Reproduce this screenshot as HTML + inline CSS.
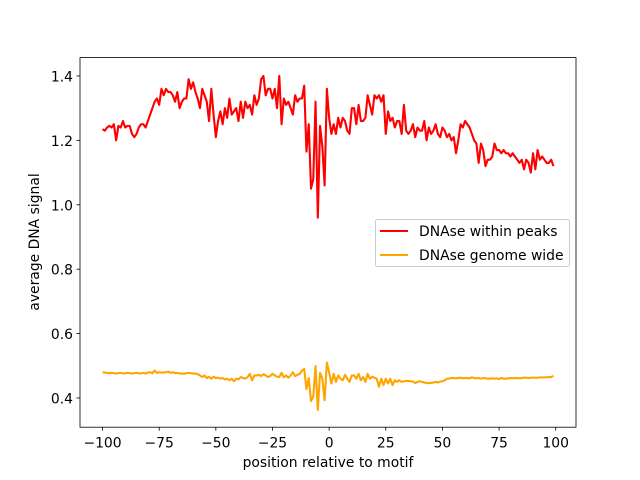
<!DOCTYPE html>
<html><head><meta charset="utf-8"><style>
body{margin:0;background:#fff;}
svg{display:block;font-family:"DejaVu Sans","Liberation Sans",sans-serif;}
</style></head><body>
<svg id="chart" width="640" height="480" viewBox="0 0 640 480">
<rect width="640" height="480" fill="#fff"/>
<g id="plot"></g>
<rect x="80" y="57.6" width="496" height="369.6" fill="none" stroke="#000" stroke-width="0.8"/>
<g id="axes" font-size="13.9" fill="#000"></g>
<text x="328" y="467" font-size="13.9" text-anchor="middle">position relative to motif</text>
<text transform="translate(39,242) rotate(-90)" font-size="13.9" text-anchor="middle">average DNA signal</text>
<g>
<rect x="375.5" y="219.5" width="194" height="47" rx="2" fill="#fff" fill-opacity="0.8" stroke="#ccc" stroke-width="1"/>
<g>
<line x1="380" y1="231" x2="408" y2="231" stroke="red" stroke-width="2.1"/>
<text x="419" y="236" font-size="13.9">DNAse within peaks</text></g>
<g>
<line x1="380" y1="255" x2="408" y2="255" stroke="orange" stroke-width="2.1"/>
<text x="419" y="260" font-size="13.9">DNAse genome wide</text></g>
</g>
</svg>
<script>
const peaks=[1.235,1.23,1.24,1.245,1.24,1.25,1.20,1.245,1.24,1.26,1.24,
1.245,1.245,1.22,1.21,1.22,1.24,1.25,1.25,1.24,1.26,
1.28,1.30,1.32,1.33,1.31,1.36,1.34,1.36,1.35,1.35,
1.34,1.32,1.35,1.30,1.32,1.33,1.33,1.39,1.36,1.38,
1.35,1.33,1.30,1.36,1.34,1.32,1.26,1.36,1.28,1.21,
1.26,1.29,1.25,1.30,1.27,1.33,1.28,1.29,1.30,1.26,
1.32,1.27,1.32,1.30,1.31,1.28,1.34,1.31,1.33,1.39,
1.40,1.34,1.36,1.36,1.33,1.36,1.30,1.40,1.25,1.33,
1.31,1.32,1.30,1.28,1.34,1.32,1.33,1.33,1.37,1.165,
1.25,1.05,1.08,1.32,0.96,1.245,1.18,1.06,1.36,1.27,
1.22,1.25,1.22,1.27,1.24,1.27,1.26,1.23,1.22,1.30,
1.30,1.25,1.31,1.26,1.26,1.27,1.34,1.31,1.28,1.34,
1.33,1.34,1.32,1.34,1.22,1.29,1.26,1.27,1.24,1.26,
1.26,1.22,1.31,1.23,1.22,1.23,1.25,1.21,1.24,1.23,
1.23,1.26,1.20,1.24,1.22,1.23,1.25,1.22,1.21,1.24,
1.23,1.21,1.22,1.20,1.21,1.16,1.20,1.25,1.24,1.26,
1.25,1.24,1.22,1.20,1.19,1.13,1.19,1.17,1.12,1.14,
1.14,1.15,1.19,1.17,1.17,1.16,1.17,1.16,1.16,1.15,
1.16,1.15,1.14,1.13,1.14,1.11,1.14,1.13,1.10,1.16,
1.11,1.17,1.14,1.15,1.14,1.13,1.13,1.14,1.12];
const genome=[0.48,0.479,0.478,0.477,0.478,0.477,0.476,0.477,0.478,0.476,0.477,
0.478,0.477,0.476,0.477,0.478,0.477,0.476,0.478,0.476,0.479,
0.48,0.477,0.485,0.478,0.48,0.479,0.479,0.48,0.482,0.478,
0.48,0.477,0.478,0.476,0.476,0.475,0.477,0.478,0.477,0.476,
0.476,0.474,0.47,0.465,0.47,0.462,0.466,0.46,0.466,0.462,
0.463,0.46,0.462,0.458,0.46,0.455,0.46,0.452,0.46,0.458,
0.465,0.462,0.46,0.465,0.475,0.455,0.47,0.47,0.472,0.468,
0.474,0.47,0.465,0.468,0.475,0.47,0.466,0.465,0.478,0.464,
0.47,0.463,0.47,0.48,0.468,0.472,0.474,0.485,0.49,0.428,
0.462,0.39,0.404,0.499,0.363,0.478,0.46,0.393,0.51,0.48,
0.445,0.475,0.45,0.47,0.46,0.455,0.472,0.46,0.45,0.47,
0.47,0.46,0.475,0.455,0.465,0.45,0.475,0.46,0.466,0.463,
0.46,0.435,0.46,0.44,0.46,0.445,0.46,0.44,0.455,0.45,
0.455,0.45,0.452,0.453,0.453,0.452,0.451,0.446,0.45,0.452,
0.45,0.448,0.447,0.446,0.447,0.448,0.45,0.448,0.451,0.452,
0.455,0.46,0.46,0.462,0.462,0.461,0.462,0.463,0.461,0.462,
0.462,0.461,0.464,0.462,0.461,0.462,0.46,0.462,0.461,0.46,
0.46,0.461,0.46,0.461,0.459,0.462,0.46,0.46,0.461,0.462,
0.461,0.462,0.462,0.461,0.462,0.463,0.463,0.462,0.463,0.463,
0.463,0.463,0.464,0.464,0.464,0.464,0.465,0.465,0.469];
const xTicks=[-100,-75,-50,-25,0,25,50,75,100];
const yTicks=[0.4,0.6,0.8,1.0,1.2,1.4];
const xStart=-100;
const NS="http://www.w3.org/2000/svg";
const X0=80,X1=576,Y0=427.2,Y1=57.6,xmin=-109.95,xmax=108.95,ymin=0.3093,ymax=1.457;
function sx(v){return X0+(v-xmin)/(xmax-xmin)*(X1-X0);}
function sy(v){return Y0-(v-ymin)/(ymax-ymin)*(Y0-Y1);}
const plot=document.getElementById('plot'),axes=document.getElementById('axes');
function line(arr,color,name){
  const p=document.createElementNS(NS,'polyline');
  p.setAttribute('points',arr.map((v,i)=>sx(xStart+i).toFixed(2)+','+sy(v).toFixed(2)).join(' '));
  p.setAttribute('fill','none');p.setAttribute('stroke',color);p.setAttribute('stroke-width','2.1');
  p.setAttribute('stroke-linejoin','round');
  
  
  plot.appendChild(p);
}
line(peaks,'red','series-dnase-within-peaks');
line(genome,'orange','series-dnase-genome-wide');
xTicks.forEach(t=>{
  const x=sx(t);
  const l=document.createElementNS(NS,'line');
  l.setAttribute('x1',x);l.setAttribute('x2',x);l.setAttribute('y1',Y0);l.setAttribute('y2',Y0+3.5);
  l.setAttribute('stroke','#000');l.setAttribute('stroke-width','0.8');
  
  
  axes.appendChild(l);
  const tx=document.createElementNS(NS,'text');
  tx.setAttribute('x',x);tx.setAttribute('y',Y0+20.5);tx.setAttribute('text-anchor','middle');
  tx.textContent=t<0?'\u2212'+Math.abs(t):String(t);
  
  
  axes.appendChild(tx);
});
yTicks.forEach(t=>{
  const y=sy(t);
  const l=document.createElementNS(NS,'line');
  l.setAttribute('x1',X0-3.5);l.setAttribute('x2',X0);l.setAttribute('y1',y);l.setAttribute('y2',y);
  l.setAttribute('stroke','#000');l.setAttribute('stroke-width','0.8');
  
  
  axes.appendChild(l);
  const tx=document.createElementNS(NS,'text');
  tx.setAttribute('x',X0-7);tx.setAttribute('y',y+5.5);tx.setAttribute('text-anchor','end');
  tx.textContent=t.toFixed(1);
  
  
  axes.appendChild(tx);
});
</script>
</body></html>
